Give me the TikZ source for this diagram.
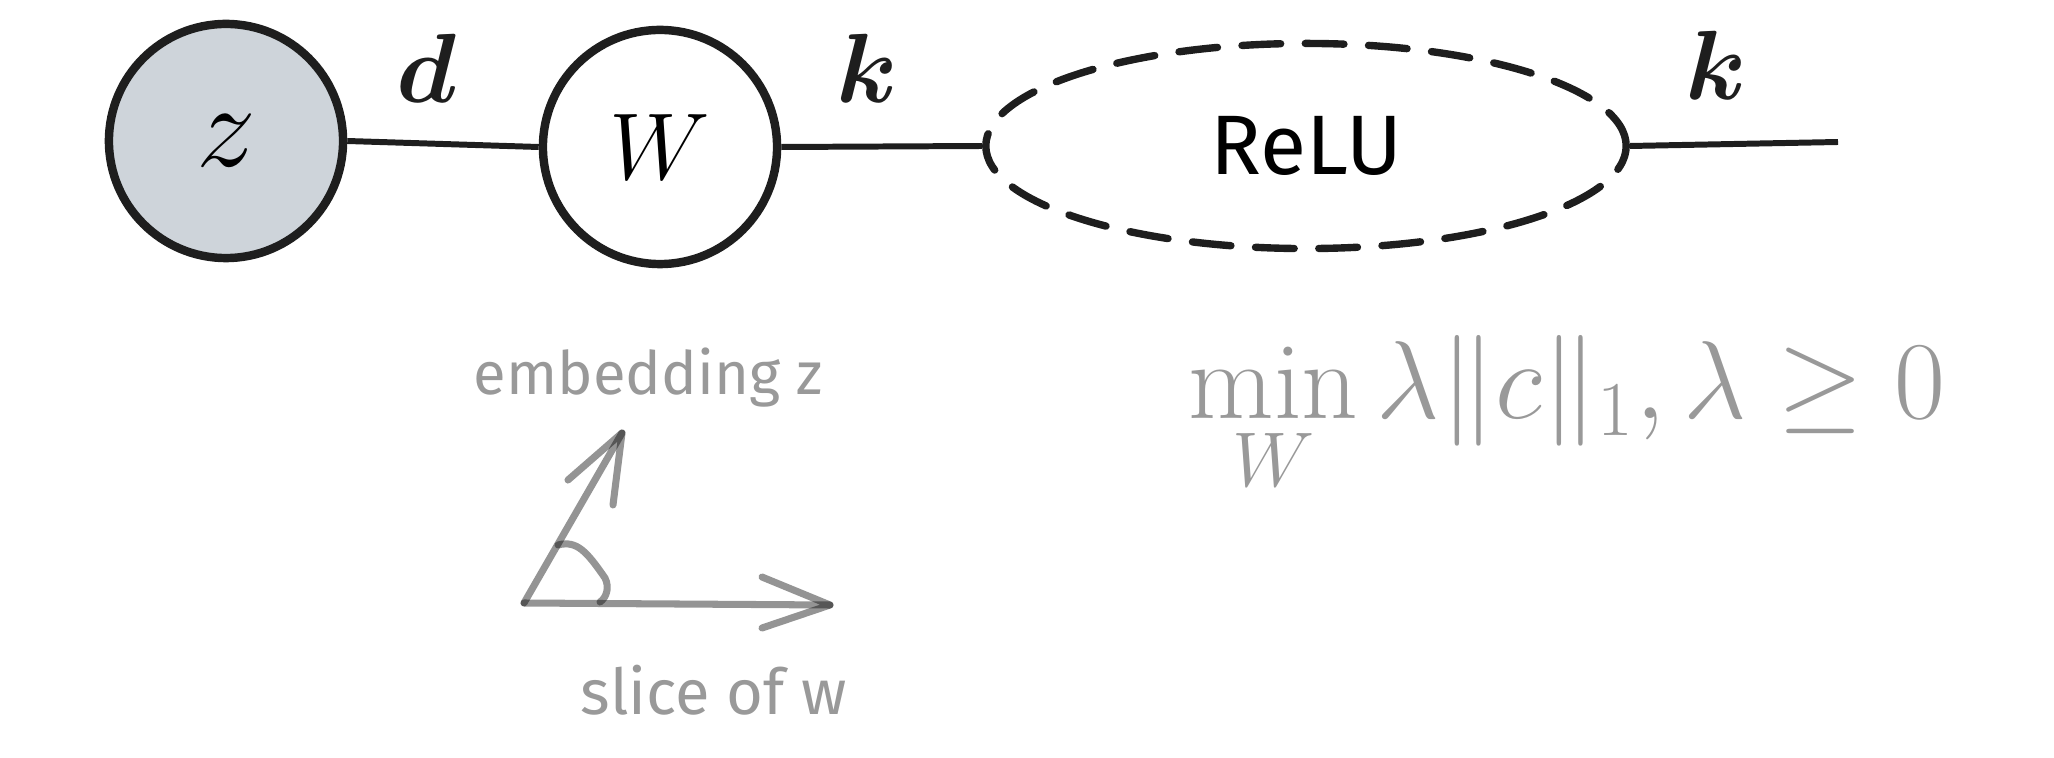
\RequirePackage{fix-cm}
\documentclass[tikz,border=0pt]{standalone}
\usepackage{amsmath,bm}
\usepackage{fontspec}
\newfontfamily\hand{Fira Sans}
\usetikzlibrary{shapes.geometric}
\definecolor{ink}{HTML}{1E1E1E}
\definecolor{zfill}{HTML}{CED4DA}
\definecolor{soft}{HTML}{999999}
\begin{document}
\begin{tikzpicture}[x=0.01cm,y=-0.01cm,
  circ/.style={circle,draw=ink,line width=2.4pt,inner sep=0pt,minimum size=2.34cm},
  relubox/.style={ellipse,draw=ink,line width=2.1pt,dash pattern=on 11pt off 7pt,line cap=round,minimum width=6.4cm,minimum height=2.05cm,font=\hand\fontsize{24}{28}\selectfont},
  wire/.style={draw=ink,line width=1.7pt},
  dimlabel/.style={font=\fontsize{28}{32}\selectfont,text=ink},
  sketch/.style={draw=black,opacity=0.42,line width=2pt,line cap=round,line join=round},
  note/.style={text=soft,font=\hand\fontsize{17}{20}\selectfont}]
\useasboundingbox (0,0) rectangle (2054,758);
% top chain
\node[circ,fill=zfill,font=\fontsize{34}{38}\selectfont] (z) at (226,141) {$z$};
\node[circ,font=\fontsize{27}{31}\selectfont] (w) at (660,147) {$W$};
\node[relubox] (relu) at (1306,146) {ReLU};
\coordinate (out) at (1838,142);
\draw[wire] (z.east) -- (w.west);
\draw[wire] (w.east) -- (relu.west);
\draw[wire] (relu.east) -- (out);
\node[dimlabel] (ld) at (427,68) {$\bm{d}$};
\node[dimlabel] (lk1) at (867,68) {$\bm{k}$};
\node[dimlabel] (lk2) at (1716,65) {$\bm{k}$};
% angle sketch
\coordinate (o) at (524,603);
\coordinate (t1) at (622,433);
\coordinate (t2) at (830,605);
\draw[sketch] (o) -- (t1);
\draw[sketch] (568,480) -- (t1) -- (613,505);
\draw[sketch] (o) -- (t2);
\draw[sketch] (762,577) -- (t2) -- (762,628);
\draw[sketch] (558,545) .. controls (577,540) and (587,552) .. (605,578) .. controls (610,588) and (606,598) .. (600,602);
\node[note] (emb) at (648,378) {embedding z};
\node[note,font=\hand\fontsize{18}{21}\selectfont] (slice) at (714,690) {slice of w};
% objective
\node[text=soft,font=\fontsize{31.5}{36}\selectfont,anchor=base west,inner sep=0pt] (eq) at (1188,419) {$\displaystyle\min_{W}\lambda\|c\|_1,\lambda\geq 0$};
\end{tikzpicture}
\end{document}
